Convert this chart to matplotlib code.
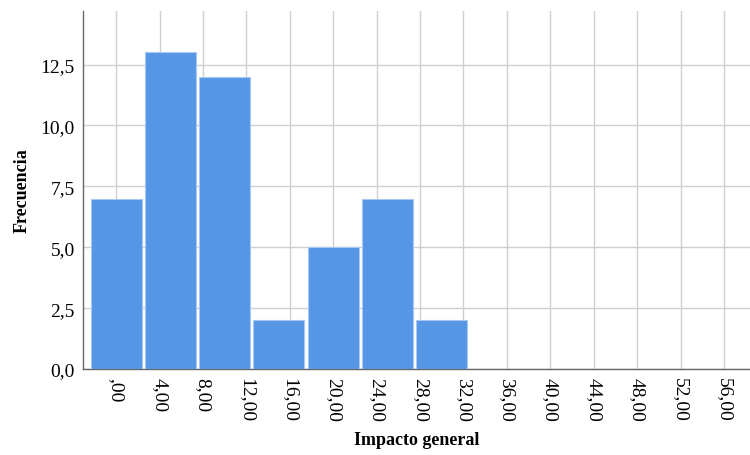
import matplotlib.pyplot as plt
import numpy as np

# histogram bins (centre, width 5) and frequencies
bin_centers = [0, 5, 10, 15, 20, 25, 30]
counts = [7, 13, 12, 2, 5, 7, 2]
bin_width = 5

x_ticks = list(range(0, 57, 4))
x_labels = [",00"] + ["%d,00" % v for v in x_ticks[1:]]
y_ticks = [0, 2.5, 5, 7.5, 10, 12.5]
y_labels = ["0,0", "2,5", "5,0", "7,5", "10,0", "12,5"]

plt.rcParams['font.family'] = ['Liberation Serif', 'DejaVu Serif']

fig = plt.figure(figsize=(7.5, 4.56), dpi=100)
ax = fig.add_axes([0.1107, 0.1886, 0.8893, 0.785])

# bars drawn a bit narrower than the bin so a white gap shows between them
ax.bar(bin_centers, counts, width=bin_width * 0.94, color='#5596e5',
       edgecolor='#a6c8f2', linewidth=0.8, zorder=3)

ax.set_xlim(-3.05, 58.4)
ax.set_ylim(0, 14.7)
ax.set_xticks(x_ticks)
ax.set_xticklabels(x_labels, rotation=270, fontsize=14)
ax.set_yticks(y_ticks)
ax.set_yticklabels(y_labels, fontsize=14)
ax.tick_params(length=0, pad=6)

ax.grid(True, color='#cfcfcf', linewidth=1, zorder=0)
ax.set_axisbelow(True)

for spine in ['top', 'right']:
    ax.spines[spine].set_visible(False)
for spine in ['bottom', 'left']:
    ax.spines[spine].set_color('#666666')
    ax.spines[spine].set_linewidth(1)

ax.set_xlabel('Impacto general', fontsize=13, fontweight='bold', labelpad=7)
ax.set_ylabel('Frecuencia', fontsize=13, fontweight='bold', labelpad=7)

fig.savefig('out.png', dpi=100)
